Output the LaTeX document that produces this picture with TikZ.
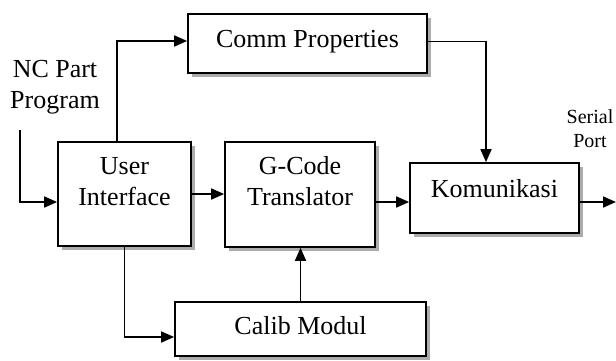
\documentclass[tikz,border=0pt]{standalone}
\usepackage{fontspec}
\setmainfont{Liberation Serif}
\usetikzlibrary{arrows.meta,shadows}
\begin{document}
\begin{tikzpicture}[x=1pt,y=-1pt,
  box/.style={draw, line width=1.7pt, fill=white, inner sep=0pt,
    drop shadow={shadow xshift=4pt, shadow yshift=-4pt, fill=gray!65, opacity=1}},
  lab/.style={font=\fontsize{26}{31}\selectfont, align=center, inner sep=0pt},
  small/.style={font=\fontsize{20}{24}\selectfont, align=center, inner sep=0pt},
  conn/.style={line width=1.7pt, -{Triangle[length=13pt,width=11pt]}}]
\useasboundingbox (0,0) rectangle (616,361);
% boxes
\node[box, minimum width=239pt, minimum height=59pt] (cp) at (307.5,43.5) {};
\node[box, minimum width=133pt, minimum height=104pt] (ui) at (124.5,194) {};
\node[box, minimum width=150pt, minimum height=105pt] (gc) at (300,194.5) {};
\node[box, minimum width=169pt, minimum height=70pt] (ko) at (494.5,198) {};
\node[box, minimum width=251pt, minimum height=54pt] (cm) at (300.5,329) {};
% texts
\node[lab, anchor=base] (cpt) at (307.5,48) {Comm Properties};
\node[lab, anchor=base] (uit) at (124.5,205) {User\\Interface};
\node[lab, anchor=base] (gct) at (300,205) {G-Code\\Translator};
\node[lab, anchor=base] (kot) at (494.5,197) {Komunikasi};
\node[lab, anchor=base] (cmt) at (300.5,334) {Calib Modul};
\node[lab, anchor=base] (nc) at (55,108) {NC Part\\Program};
\node[small, anchor=base] (sp) at (590,147) {Serial\\Port};
% connectors
\coordinate (ncin) at (20,130);
\coordinate (out) at (616,202);
\path ([yshift=-4pt]ko.west) coordinate (kin);
\draw[conn] ([xshift=-7.5pt]ui.north) |- ([yshift=2.5pt]cp.west);
\draw[conn] ([yshift=2pt]cp.east) -| ([xshift=-8.5pt]ko.north);
\draw[conn] (ncin) |- ([yshift=-8pt]ui.west);
\draw[conn] (ui.east) -- (ui.east -| gc.west);
\draw[conn] (gc.east |- kin) -- (kin);
\draw[conn] (ko.east |- out) -- (out);
\draw[conn] (ui.south) |- ([yshift=-8pt]cm.west);
\draw[conn] (cm.north) -- (cm.north |- gc.south);
\end{tikzpicture}
\end{document}
